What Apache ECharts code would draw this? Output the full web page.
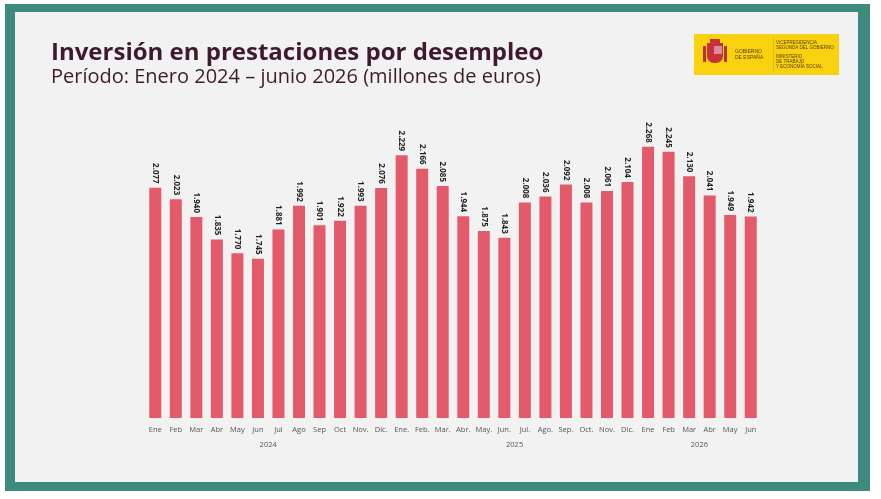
<!DOCTYPE html>
<html>
<head>
<meta charset="utf-8">
<script src="https://cdn.jsdelivr.net/npm/echarts@6/dist/echarts.min.js"></script>
<style>
  html, body { margin: 0; padding: 0; background: #ffffff; }
  #chart { width: 881px; height: 499px; }
</style>
</head>
<body>
<div id="chart"></div>
<script>
// meses (etiquetas del eje)
var months = ['Ene', 'Feb', 'Mar', 'Abr', 'May', 'Jun', 'Jul', 'Ago', 'Sep', 'Oct', 'Nov.', 'Dic.',
              'Ene.', 'Feb.', 'Mar.', 'Abr.', 'May.', 'Jun.', 'Jul.', 'Ago.', 'Sep.', 'Oct.', 'Nov.', 'Dic.',
              'Ene', 'Feb', 'Mar', 'Abr', 'May', 'Jun'];
// millones de euros
var values = [2077, 2023, 1940, 1835, 1770, 1745, 1881, 1992, 1901, 1922, 1993, 2076,
              2229, 2166, 2085, 1944, 1875, 1843, 2008, 2036, 2092, 2008, 2061, 2104,
              2268, 2245, 2130, 2041, 1949, 1942];
var years = ['2024', '2025', '2026'];
var yearMonths = [12, 12, 6];

var yearCenters = [];
var acc = 0;
for (var i = 0; i < years.length; i++) {
    yearCenters.push(acc + yearMonths[i] / 2);
    acc += yearMonths[i];
}

function fmt(v) {
    return String(v).replace(/\B(?=(\d{3})+(?!\d))/g, '.');
}

var chart = echarts.init(document.getElementById('chart'));
var teal = '#3f8a7e';
var textDark = '#3f1a2e';

var option = {
    backgroundColor: '#ffffff',
    animation: false,
    title: {
        text: 'Inversión en prestaciones por desempleo',
        subtext: 'Período: Enero 2024 – junio 2026 (millones de euros)',
        left: 46,
        top: 36,
        itemGap: 2,
        textStyle: {
            fontFamily: 'Open Sans',
            fontWeight: 'bold',
            fontSize: 24,
            color: textDark
        },
        subtextStyle: {
            fontFamily: 'Open Sans',
            fontSize: 20,
            color: textDark
        }
    },
    graphic: [
        {
            type: 'rect', z: -10, silent: true,
            shape: { x: 5, y: 4, width: 865, height: 487 },
            style: { fill: teal }
        },
        {
            type: 'rect', z: -9, silent: true,
            shape: { x: 15, y: 12, width: 843, height: 470 },
            style: { fill: '#f2f2f2' }
        },
        // logo
        {
            type: 'group', left: 694, top: 34, silent: true,
            children: [
                { type: 'rect', shape: { x: 0, y: 0, width: 145, height: 41 }, style: { fill: '#f8d20f' } },
                { type: 'rect', shape: { x: 13, y: 9, width: 16, height: 20, r: [0, 0, 7, 7] }, style: { fill: '#c8313a' } },
                { type: 'rect', shape: { x: 20, y: 12, width: 8, height: 8 }, style: { fill: '#d88aa8' } },
                { type: 'rect', shape: { x: 9, y: 12, width: 3, height: 16 }, style: { fill: '#b8343a' } },
                { type: 'rect', shape: { x: 30, y: 12, width: 3, height: 16 }, style: { fill: '#b8343a' } },
                { type: 'rect', shape: { x: 16, y: 5, width: 10, height: 5 }, style: { fill: '#c8313a' } },
                { type: 'text', style: { x: 41, y: 15, text: 'GOBIERNO\nDE ESPAÑA', fontSize: 5, lineHeight: 6, fontFamily: 'Liberation Sans', fill: '#5a3a10' } },
                { type: 'rect', shape: { x: 79, y: 4, width: 0.5, height: 33 }, style: { fill: '#c9a400' } },
                { type: 'text', style: { x: 82, y: 6, text: 'VICEPRESIDENCIA\nSEGUNDA DEL GOBIERNO', fontSize: 4.5, lineHeight: 5, fontFamily: 'Liberation Sans', fill: '#5a3a10' } },
                { type: 'text', style: { x: 82, y: 20, text: 'MINISTERIO\nDE TRABAJO\nY ECONOMÍA SOCIAL', fontSize: 4.5, lineHeight: 5, fontFamily: 'Liberation Sans', fill: '#5a3a10' } }
            ]
        }
    ],
    grid: {
        left: 145,
        right: 120,
        top: 140,
        bottom: 81
    },
    xAxis: [
        {
            type: 'category',
            data: months,
            axisLine: { show: false },
            axisTick: { show: false },
            axisLabel: {
                interval: 0,
                margin: 8,
                fontFamily: 'Open Sans',
                fontSize: 7.5,
                color: '#555555'
            }
        },
        {
            type: 'value',
            position: 'bottom',
            min: 0,
            max: months.length,
            offset: 15,
            axisLine: { show: false },
            axisTick: { show: false },
            splitLine: { show: false },
            axisLabel: {
                customValues: yearCenters,
                margin: 8,
                fontFamily: 'Open Sans',
                fontSize: 7.5,
                color: '#555555',
                formatter: function (v) {
                    var idx = yearCenters.indexOf(v);
                    return idx >= 0 ? years[idx] : '';
                }
            }
        }
    ],
    yAxis: {
        type: 'value',
        min: 1000,
        max: 2300,
        show: false
    },
    series: [
        {
            type: 'bar',
            data: values,
            barWidth: 12,
            itemStyle: { color: '#e35b6b' },
            label: {
                show: true,
                position: 'top',
                rotate: -90,
                align: 'right',
                verticalAlign: 'middle',
                distance: 4,
                fontFamily: 'Open Sans',
                fontWeight: 'bold',
                fontSize: 8,
                color: '#222222',
                formatter: function (p) { return fmt(p.value); }
            }
        }
    ]
};
chart.setOption(option);
</script>
</body>
</html>
